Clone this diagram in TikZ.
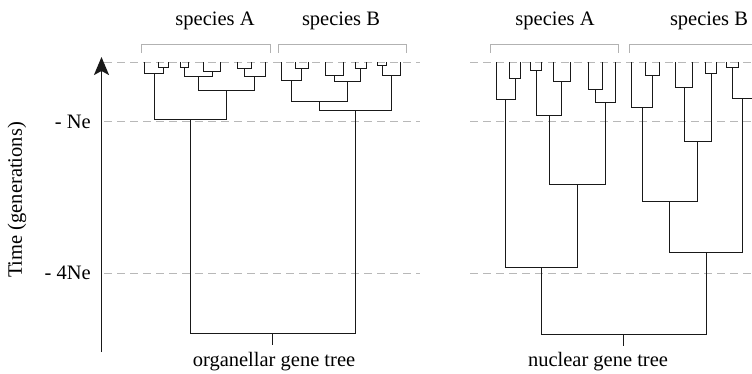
\documentclass[tikz,border=0pt]{standalone}
\usepackage{fontspec}
\setmainfont{Liberation Serif}
\usetikzlibrary{arrows.meta}
\tikzset{
  branch/.style={draw=black!90, line width=1.8pt, line join=miter},
  guide/.style={draw=black!28, line width=1.2pt, dash pattern=on 8pt off 5pt},
  bracket/.style={draw=black!30, line width=1.2pt},
  lbl/.style={font=\fontsize{20.5}{24}\selectfont, inner sep=0pt},
}
% join two children (#2, #3) at the parent #1 with an elbow
\newcommand\joinat[3]{\draw[branch] (#2) |- (#1) -| (#3);}
\begin{document}
\begin{tikzpicture}[x=1pt, y=-1pt]
\useasboundingbox (0,0) rectangle (752,374);
\clip (0,0) rectangle (752,374);

% time guides
\foreach \yy in {62.5,121.5,273.5} {
  \draw[guide] (104,\yy) -- (420,\yy);
  \draw[guide] (470,\yy) -- (752,\yy);
}

% time axis
\coordinate (tbot) at (101.5,352);
\coordinate (ttop) at (101.5,57);
\draw[line width=1.8pt, draw=black!90, -{Stealth[length=18pt, width=15pt, inset=4pt]}] (tbot) -- (ttop);
\node[lbl, rotate=90] (tlabel) at (17,200) {Time (generations)};
\node[lbl, anchor=east] (ne) at (91,121.5) {- Ne};
\node[lbl, anchor=east] (ne4) at (91,273) {- 4Ne};

% species brackets
\draw[bracket] (141.5,53) -- (141.5,44.5) -- (270.5,44.5) -- (270.5,53);
\draw[bracket] (278.5,53) -- (278.5,44.5) -- (406.5,44.5) -- (406.5,53);
\draw[bracket] (490.5,53) -- (490.5,44.5) -- (618.5,44.5) -- (618.5,53);
\draw[bracket] (629.5,53) -- (629.5,44.5) -- (770,44.5);
\node[lbl] (spA1) at (215,21) {species A};
\node[lbl] (spB1) at (341,21) {species B};
\node[lbl] (spA2) at (555,21) {species A};
\node[lbl] (spB2) at (709,21) {species B};

% ---------------- organellar gene tree ----------------
\foreach \n/\x in {1/144.5,2/158.5,3/168.5,4/180.5,5/188.5,6/203.5,7/220.5,8/237.5,9/251.5,10/265.5}
  \coordinate (a\n) at (\x,62.5);
\coordinate (a23) at (163.5,67.5);
\coordinate (a123) at (154.5,73.5);
\coordinate (a45) at (184.5,67.5);
\coordinate (a67) at (212.5,71.5);
\coordinate (a4567) at (198.5,76.5);
\coordinate (a89) at (244.5,68.5);
\coordinate (a8910) at (254.5,76.5);
\coordinate (a4to10) at (226.5,90.5);
\coordinate (aA) at (190.5,119.5);

\foreach \n/\x in {1/281.5,2/295.5,3/308.5,4/325.5,5/343.5,6/355.5,7/366.5,8/377.5,9/386.5,10/400.5}
  \coordinate (b\n) at (\x,62.5);
\coordinate (b23) at (301.5,68.5);
\coordinate (b123) at (291.5,80.5);
\coordinate (b45) at (334.5,75.5);
\coordinate (b67) at (360.5,68.5);
\coordinate (b4567) at (347.5,81.5);
\coordinate (b1to7) at (319.5,101.5);
\coordinate (b89) at (382.5,65.5);
\coordinate (b8910) at (391.5,75.5);
\coordinate (bB) at (355.5,110.5);

\coordinate (oroot) at (272.5,333.5);
\coordinate (otick) at (272.5,345);

\joinat{a23}{a2}{a3}
\joinat{a123}{a1}{a23}
\joinat{a45}{a4}{a5}
\joinat{a67}{a6}{a7}
\joinat{a4567}{a45}{a67}
\joinat{a89}{a8}{a9}
\joinat{a8910}{a89}{a10}
\joinat{a4to10}{a4567}{a8910}
\joinat{aA}{a123}{a4to10}

\joinat{b23}{b2}{b3}
\joinat{b123}{b1}{b23}
\joinat{b45}{b4}{b5}
\joinat{b67}{b6}{b7}
\joinat{b4567}{b45}{b67}
\joinat{b1to7}{b123}{b4567}
\joinat{b89}{b8}{b9}
\joinat{b8910}{b89}{b10}
\joinat{bB}{b1to7}{b8910}

\joinat{oroot}{aA}{bB}
\draw[branch] (oroot) -- (otick);
\node[lbl] (olabel) at (274,362) {organellar gene tree};

% ---------------- nuclear gene tree ----------------
\foreach \n/\x in {1/496.5,2/509.5,3/520.5,4/530.5,5/541.5,6/553.5,7/570.5,8/588.5,9/602.5,10/615.5}
  \coordinate (r\n) at (\x,62.5);
\coordinate (r23) at (515.5,78.5);
\coordinate (r123) at (505.5,99.5);
\coordinate (r45) at (536.5,70.5);
\coordinate (r67) at (561.5,81.5);
\coordinate (r4567) at (549.5,115.5);
\coordinate (r89) at (595.5,89.5);
\coordinate (r8910) at (605.5,102.5);
\coordinate (r4to10) at (577.5,184.5);
\coordinate (rA) at (541.5,267.5);

\foreach \n/\x in {1/631.5,2/645.5,3/659.5,4/675.5,5/692.5,6/705.5,7/716.5,8/726.5,9/738.5,10/752.5}
  \coordinate (s\n) at (\x,62.5);
\coordinate (s23) at (652.5,75.5);
\coordinate (s123) at (642.5,107.5);
\coordinate (s45) at (684.5,87.5);
\coordinate (s67) at (711.5,73.5);
\coordinate (s4567) at (697.5,141.5);
\coordinate (s1to7) at (669.5,201.5);
\coordinate (s89) at (732.5,67.5);
\coordinate (s8910) at (742.5,98.5);
\coordinate (sB) at (706.5,252.5);

\coordinate (nroot) at (623.5,334.5);
\coordinate (ntick) at (623.5,346);

\joinat{r23}{r2}{r3}
\joinat{r123}{r1}{r23}
\joinat{r45}{r4}{r5}
\joinat{r67}{r6}{r7}
\joinat{r4567}{r45}{r67}
\joinat{r89}{r8}{r9}
\joinat{r8910}{r89}{r10}
\joinat{r4to10}{r4567}{r8910}
\joinat{rA}{r123}{r4to10}

\joinat{s23}{s2}{s3}
\joinat{s123}{s1}{s23}
\joinat{s45}{s4}{s5}
\joinat{s67}{s6}{s7}
\joinat{s4567}{s45}{s67}
\joinat{s1to7}{s123}{s4567}
\joinat{s89}{s8}{s9}
\joinat{s8910}{s89}{s10}
\joinat{sB}{s1to7}{s8910}

\joinat{nroot}{rA}{sB}
\draw[branch] (nroot) -- (ntick);
\node[lbl] (nlabel) at (598,362) {nuclear gene tree};
\end{tikzpicture}
\end{document}
